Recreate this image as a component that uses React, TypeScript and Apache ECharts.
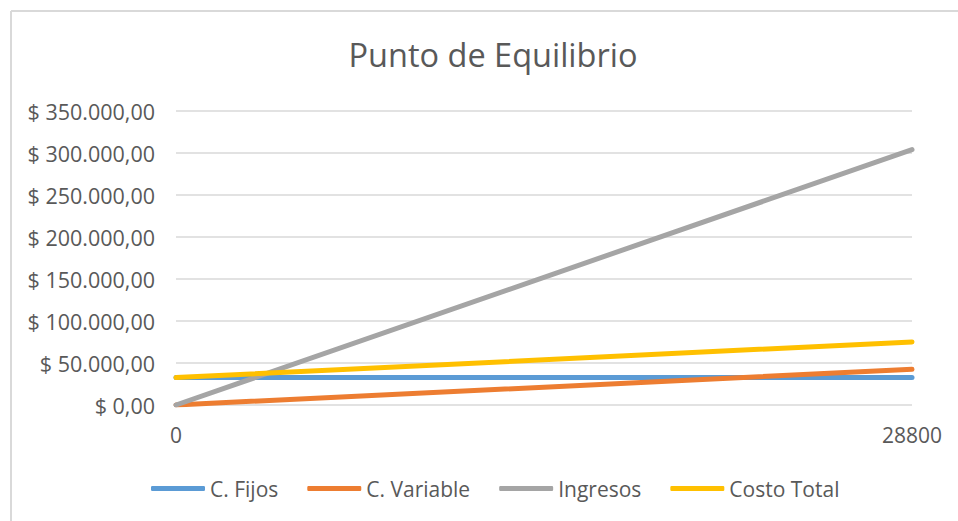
import React, { useEffect, useRef } from "react";
import * as echarts from "echarts";

const categories = ["0", "28800"];
const seriesNames = ["C. Fijos", "C. Variable", "Ingresos", "Costo Total"];
const fijos = [32600, 32600];
const variable = [0, 42500];
const ingresos = [0, 304000];
const costoTotal = [32600, 75100];
const colors = ["#5B9BD5", "#ED7D31", "#A5A5A5", "#FFC000"];

const FONT = "'Open Sans', 'Noto Sans', sans-serif";

function fmtMoney(v: number): string {
  const s = Math.round(v).toString().replace(/\B(?=(\d{3})+(?!\d))/g, ".");
  return "$ " + s + ",00";
}

export default function App() {
  const ref = useRef<HTMLDivElement>(null);
  useEffect(() => {
    if (!ref.current) return;
    const chart = echarts.init(ref.current, null, { renderer: "svg" });
    const data = [fijos, variable, ingresos, costoTotal];
    chart.setOption({
      animation: false,
      backgroundColor: "#ffffff",
      title: {
        text: "Punto de Equilibrio",
        left: 488,
        textAlign: "center",
        top: 33,
        textStyle: { fontFamily: FONT, fontSize: 32.5, fontWeight: "normal", color: "#595959" },
      },
      legend: {
        data: seriesNames,
        left: 146,
        top: 473,
        icon: "roundRect",
        itemWidth: 54,
        itemHeight: 5,
        itemGap: 29,
        textStyle: { fontFamily: FONT, fontSize: 21, color: "#595959" },
      },
      grid: { left: 176, right: 46, top: 111, bottom: 116 },
      xAxis: {
        type: "category",
        data: categories,
        boundaryGap: false,
        axisLine: { show: false },
        axisTick: { show: false },
        axisLabel: { fontFamily: FONT, fontSize: 21, color: "#595959", margin: 19 },
      },
      yAxis: {
        type: "value",
        min: 0,
        max: 350000,
        interval: 50000,
        axisLine: { show: false },
        axisTick: { show: false },
        splitLine: { lineStyle: { color: "#D9D9D9", width: 1.5 } },
        axisLabel: {
          fontFamily: FONT,
          fontSize: 21.5,
          color: "#595959",
          margin: 21,
          formatter: (v: number) => fmtMoney(v),
        },
      },
      series: seriesNames.map((name, i) => ({
        name,
        type: "line",
        data: data[i],
        symbol: "none",
        color: colors[i],
        lineStyle: { width: 5, color: colors[i], cap: "round" },
      })),
      graphic: [
        { type: "line", shape: { x1: 11, y1: 11, x2: 958, y2: 11 }, style: { stroke: "#D9D9D9", lineWidth: 2 } },
        { type: "line", shape: { x1: 11, y1: 11, x2: 11, y2: 521 }, style: { stroke: "#D9D9D9", lineWidth: 2 } },
      ],
    });
    return () => chart.dispose();
  }, []);
  return (
    <div
      ref={ref}
      style={{ position: "fixed", left: 0, top: 0, width: 958, height: 521, background: "#fff" }}
    />
  );
}
